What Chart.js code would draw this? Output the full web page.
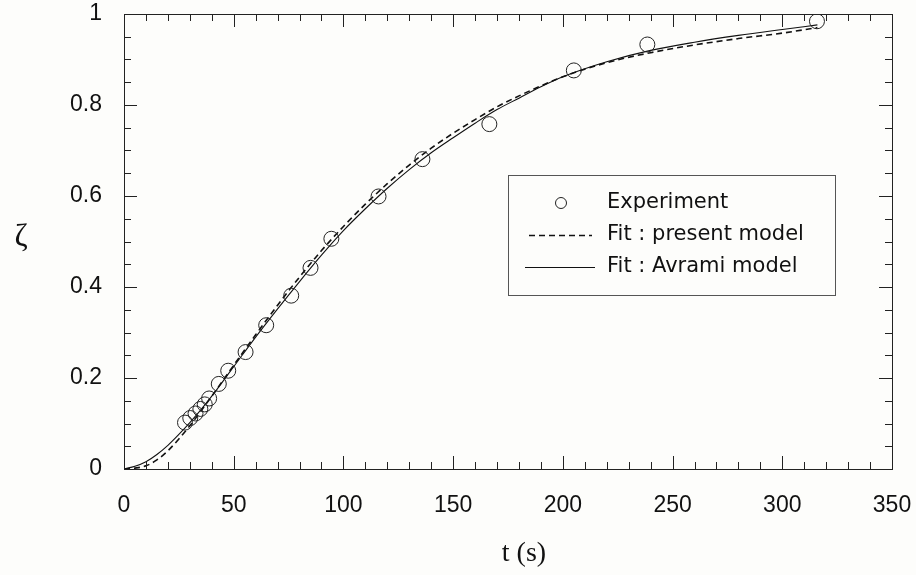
<!DOCTYPE html>
<html>
<head>
<meta charset="utf-8">
<script src="https://cdn.jsdelivr.net/npm/chart.js@4.4.1/dist/chart.umd.min.js"></script>
<style>
  html, body { margin: 0; padding: 0; background: #fdfdfb; }
  #wrap { width: 916px; height: 575px; }
</style>
</head>
<body>
<div id="wrap"><canvas id="chart" width="916" height="575"></canvas></div>
<script>
// Experiment points (t in s, zeta)
const expTime = [27.8, 30.2, 32.6, 34.8, 36.8, 38.8, 43.2, 47.5, 55.4, 64.8, 76.2, 85.0, 94.5, 116, 136, 166.5, 205, 238.5, 315.8];
const expZeta = [0.102, 0.112, 0.122, 0.132, 0.142, 0.155, 0.187, 0.216, 0.257, 0.316, 0.381, 0.442, 0.506, 0.599, 0.681, 0.758, 0.876, 0.933, 0.984];

// Fitted curves
const fitTime    = [0, 5, 10, 15, 20, 25, 30, 35, 40, 50, 60, 70, 80, 90, 100, 110, 120, 130, 140, 150, 160, 170, 180, 190, 200, 220, 240, 260, 280, 300, 316];
const presentZeta = [0, 0.002, 0.007, 0.020, 0.040, 0.066, 0.095, 0.127, 0.160, 0.228, 0.295, 0.360, 0.422, 0.480, 0.533, 0.582, 0.627, 0.668, 0.705, 0.738, 0.768, 0.796, 0.820, 0.842, 0.862, 0.893, 0.915, 0.932, 0.946, 0.958, 0.970];
const avramiZeta  = [0, 0.006, 0.016, 0.032, 0.052, 0.076, 0.102, 0.130, 0.160, 0.225, 0.290, 0.352, 0.412, 0.470, 0.524, 0.572, 0.617, 0.658, 0.695, 0.728, 0.760, 0.790, 0.815, 0.840, 0.862, 0.895, 0.920, 0.938, 0.953, 0.966, 0.976];

const seriesLabels = ['Experiment', 'Fit : present model', 'Fit : Avrami model'];

const xMin = 0, xMax = 350, xMajor = 50, xMinor = 10;
const yMin = 0, yMax = 1, yMajor = 0.2, yMinor = 0.05;

const tickFont = { family: "'Liberation Sans', Arial, sans-serif", size: 23 };

const toPoints = (xs, ys) => xs.map((x, i) => ({ x: x, y: ys[i] }));

// chart area is fixed by layout padding, not by label overflow
function noScalePadding(scale) {
  scale.paddingTop = 0;
  scale.paddingBottom = 0;
  scale.paddingLeft = 0;
  scale.paddingRight = 0;
}

// frame with inward ticks on all four sides
const frameTicks = {
  id: 'frameTicks',
  afterDatasetsDraw(chart) {
    const { ctx, chartArea: { left, right, top, bottom }, scales: { x, y } } = chart;
    ctx.save();
    ctx.strokeStyle = '#222';
    ctx.lineWidth = 1;
    ctx.strokeRect(left + 0.5, top + 0.5, right - left, bottom - top);
    ctx.beginPath();
    for (let v = xMin; v <= xMax + 1e-6; v += xMinor) {
      const px = Math.round(x.getPixelForValue(v)) + 0.5;
      const len = (Math.abs(v / xMajor - Math.round(v / xMajor)) < 1e-6) ? 13 : 7;
      ctx.moveTo(px, bottom); ctx.lineTo(px, bottom - len);
      ctx.moveTo(px, top); ctx.lineTo(px, top + len);
    }
    for (let v = yMin; v <= yMax + 1e-6; v += yMinor) {
      const py = Math.round(y.getPixelForValue(v)) + 0.5;
      const len = (Math.abs(v / yMajor - Math.round(v / yMajor)) < 1e-6) ? 13 : 7;
      ctx.moveTo(left, py); ctx.lineTo(left + len, py);
      ctx.moveTo(right, py); ctx.lineTo(right - len, py);
    }
    ctx.stroke();
    ctx.restore();
  }
};

// axis titles: zeta is upright, so draw both by hand
const axisTitles = {
  id: 'axisTitles',
  afterDraw(chart) {
    const { ctx } = chart;
    ctx.save();
    ctx.fillStyle = '#111';
    ctx.textAlign = 'center';
    ctx.textBaseline = 'middle';
    ctx.font = "32px 'Liberation Serif', 'DejaVu Serif', serif";
    ctx.fillText('ζ', 21, 238);
    ctx.font = "28px 'Liberation Serif', 'DejaVu Serif', serif";
    ctx.fillText('t (s)', 524, 554);
    ctx.restore();
  }
};

// boxed legend inside the plot
const boxLegend = {
  id: 'boxLegend',
  afterDraw(chart) {
    const { ctx } = chart;
    const ds = chart.data.datasets;
    const bx = 508, by = 175, bw = 327, bh = 120;
    ctx.save();
    ctx.fillStyle = '#fdfdfb';
    ctx.fillRect(bx, by, bw, bh);
    ctx.strokeStyle = '#555';
    ctx.lineWidth = 1;
    ctx.strokeRect(bx + 0.5, by + 0.5, bw, bh);
    ctx.font = "21px 'DejaVu Sans', sans-serif";
    ctx.textBaseline = 'middle';
    ctx.textAlign = 'left';
    ctx.fillStyle = '#111';
    const rows = [203, 235, 267];
    ds.forEach((d, i) => {
      const cy = rows[i];
      ctx.strokeStyle = d.borderColor;
      if (i === 0) {
        ctx.lineWidth = 1;
        ctx.beginPath();
        ctx.arc(561, cy, 5.5, 0, Math.PI * 2);
        ctx.stroke();
      } else {
        ctx.lineWidth = d.borderWidth;
        ctx.setLineDash(d.borderDash || []);
        ctx.beginPath();
        ctx.moveTo(i === 1 ? 529 : 525, cy + 0.5);
        ctx.lineTo(i === 1 ? 592 : 595, cy + 0.5);
        ctx.stroke();
        ctx.setLineDash([]);
      }
      ctx.fillText(d.label, 607, cy);
    });
    ctx.restore();
  }
};

new Chart(document.getElementById('chart'), {
  type: 'scatter',
  data: {
    datasets: [
      {
        label: seriesLabels[0],
        data: toPoints(expTime, expZeta),
        showLine: false,
        pointStyle: 'circle',
        pointRadius: 7.5,
        pointBorderWidth: 1,
        borderColor: '#222',
        backgroundColor: 'rgba(0,0,0,0)',
        order: 0
      },
      {
        label: seriesLabels[1],
        data: toPoints(fitTime, presentZeta),
        showLine: true,
        borderColor: '#111',
        borderWidth: 1.6,
        borderDash: [6, 4],
        pointRadius: 0,
        cubicInterpolationMode: 'monotone',
        order: 1
      },
      {
        label: seriesLabels[2],
        data: toPoints(fitTime, avramiZeta),
        showLine: true,
        borderColor: '#111',
        borderWidth: 1.1,
        pointRadius: 0,
        cubicInterpolationMode: 'monotone',
        order: 2
      }
    ]
  },
  options: {
    responsive: false,
    animation: false,
    layout: { padding: { top: 14, right: 24, left: 0, bottom: 0 } },
    plugins: {
      legend: { display: false },
      tooltip: { enabled: false }
    },
    scales: {
      x: {
        type: 'linear',
        min: xMin,
        max: xMax,
        grid: { display: false, drawTicks: false },
        border: { display: false },
        ticks: { stepSize: xMajor, color: '#111', font: tickFont, padding: 23, maxRotation: 0 },
        afterFit(scale) { scale.height = 106; noScalePadding(scale); }
      },
      y: {
        type: 'linear',
        min: yMin,
        max: yMax,
        grid: { display: false, drawTicks: false },
        border: { display: false },
        ticks: {
          stepSize: yMajor, color: '#111', font: tickFont, padding: 22,
          callback: v => String(Number(v.toFixed(2)))
        },
        afterFit(scale) { scale.width = 124; noScalePadding(scale); }
      }
    }
  },
  plugins: [frameTicks, axisTitles, boxLegend]
});
</script>
</body>
</html>
